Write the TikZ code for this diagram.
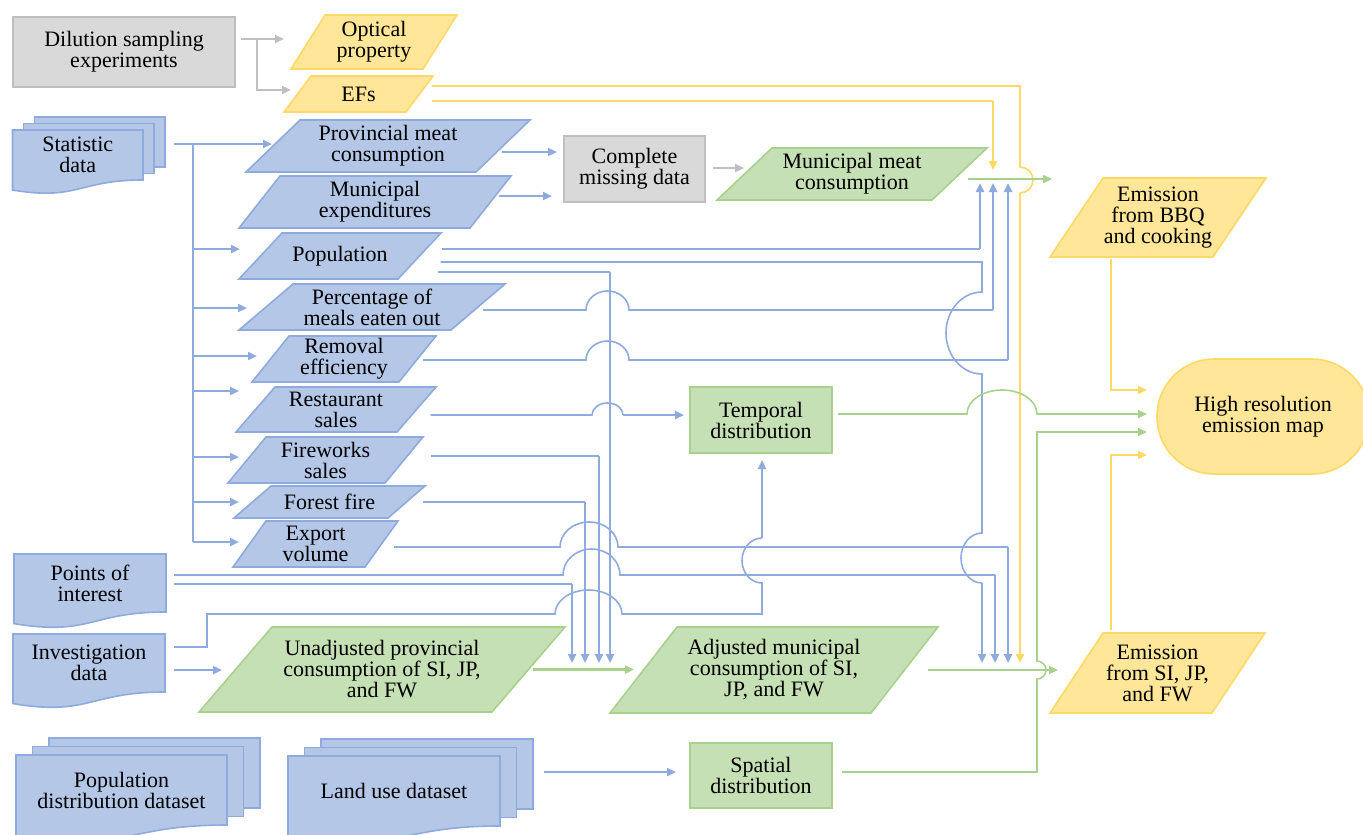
\documentclass[tikz,border=0pt]{standalone}
\usepackage{fontspec}
\setmainfont{Liberation Serif}
\newfontfamily\tnr{Liberation Serif}
\usetikzlibrary{arrows.meta,calc,backgrounds}
\definecolor{bfill}{HTML}{B4C7E7}\definecolor{bline}{HTML}{8FAADC}
\definecolor{gfill}{HTML}{C5E0B4}\definecolor{gline}{HTML}{A9D18E}
\definecolor{yfill}{HTML}{FFE699}\definecolor{yline}{HTML}{FFD966}
\definecolor{kfill}{HTML}{D9D9D9}\definecolor{kline}{HTML}{BFBFBF}
\newcommand\pgm[7]{\node[txt,minimum width=#4pt,minimum height=#5pt] (#2) at (#3) {#7};
  \begin{scope}[on background layer]
  \draw[#1] ([xshift=-#6pt]#2.south west)--([xshift=#6pt]#2.north west)--([xshift=#6pt]#2.north east)--([xshift=-#6pt]#2.south east)--cycle;
  \end{scope}}
\newcommand\docpath[2]{\draw[bsh] (#1.north west)--(#1.north east)--(#1.south east) .. controls (#1.south) and ([yshift=-0.42*#2pt]#1.south) .. ([yshift=-0.2*#2pt]#1.south west)--cycle;}
\newcommand\docu[5]{\node[txt,minimum width=#3pt,minimum height=#4pt] (#1) at (#2) {#5};
  \begin{scope}[on background layer]\docpath{#1}{#4}\end{scope}}
\newcommand\mdocu[7]{\node[txt,minimum width=#3pt,minimum height=#4pt] (#1) at (#2) {#7};
  \begin{scope}[on background layer]
  \foreach \k in {2,1}{\draw[bsh] ([shift={(\k*#5,-\k*#6)}]#1.north west) rectangle ([shift={(\k*#5,-\k*#6)}]#1.south east);}
  \docpath{#1}{#4}
  \end{scope}}
\begin{document}
\begin{tikzpicture}[x=1pt,y=-1pt,>={Triangle[length=9pt,width=8pt]},
  txt/.style={inner sep=0pt,outer sep=0pt,align=center,font=\tnr\fontsize{22}{21}\selectfont},
  bsh/.style={fill=bfill,draw=bline,line width=1.6pt},
  gsh/.style={fill=gfill,draw=gline,line width=1.6pt},
  ysh/.style={fill=yfill,draw=yline,line width=1.6pt},
  ksh/.style={fill=kfill,draw=kline,line width=1.6pt},
  box/.style={txt,minimum width=142pt,minimum height=66pt},
  bl/.style={draw=bline,line width=1.6pt},ba/.style={bl,line width=2.6pt,->},
  gl/.style={draw=gline,line width=1.6pt},ga/.style={gl,line width=2.6pt,->},
  yl/.style={draw=yline,line width=1.6pt},ya/.style={yl,line width=2.6pt,->},
  ka/.style={draw=kline,line width=2.6pt,->}]
\useasboundingbox (0,0) rectangle (1363,835);
\node[txt,ksh,minimum width=222.5pt,minimum height=70pt] (dil) at (124,52) {Dilution sampling\\experiments};
\pgm{ysh}{opt}{374,42}{132}{54}{17}{Optical\\property}
\pgm{ysh}{efs}{358.5,94}{122}{36}{13.5}{EFs}
\mdocu{stat}{77.75,155}{130.5}{50}{11}{6.5}{Statistic\\data}
\pgm{bsh}{prov}{388,146}{230}{52}{27}{Provincial meat\\consumption}
\pgm{bsh}{mexp}{375,202}{231}{52}{20.5}{Municipal\\expenditures}
\pgm{bsh}{pop}{340,256}{159}{46}{21.5}{Population}
\pgm{bsh}{pct}{372,307}{212}{46}{27}{Percentage of\\meals eaten out}
\pgm{bsh}{rem}{344,359}{147}{46}{18.5}{Removal\\efficiency}
\pgm{bsh}{rest}{336,409.5}{161}{45}{19.5}{Restaurant\\sales}
\pgm{bsh}{fw}{325.5,460}{157}{46}{19}{Fireworks\\sales}
\pgm{bsh}{ff}{329.5,502}{154}{32}{18.5}{Forest fire}
\pgm{bsh}{exp}{315.5,544}{132}{46}{16.5}{Export\\volume}
\docu{poi}{90,583}{152}{58}{Points of\\interest}
\docu{inv}{89,663}{152}{58}{Investigation\\data}
\mdocu{popd}{121.5,790}{211}{70}{16.5}{8.5}{Population\\distribution dataset}
\mdocu{land}{394,791}{212}{70}{16.5}{8.5}{Land use dataset}
\node[txt,ksh,minimum width=141pt,minimum height=66pt] (cmd) at (634.5,169) {Complete\\missing data};
\pgm{gsh}{mmc}{852,174}{215}{52}{27.5}{Municipal meat\\consumption}
\node[box,gsh] (tmp) at (761,420) {Temporal\\distribution};
\node[box,gsh,minimum height=65pt] (spd) at (761,775.5) {Spatial\\distribution};
\pgm{gsh}{unadj}{382,669.5}{293}{85}{36.5}{Unadjusted provincial\\consumption of SI, JP,\\and FW}
\pgm{gsh}{adj}{774,670}{261}{86}{33.5}{Adjusted municipal\\consumption of SI,\\JP, and FW}
\pgm{ysh}{bbq}{1158,217.5}{163}{79}{26.5}{Emission\\from BBQ\\and cooking}
\pgm{ysh}{siem}{1157.5,673}{162}{80}{26.5}{Emission\\from SI, JP,\\and FW}
\node[txt,ysh,rounded corners=57pt,minimum width=212pt,minimum height=115pt] (map) at (1263,416.5) {High resolution\\emission map};
\draw[ka] (dil.east) ++(6,-13) -- (284,39);
\draw[ka] (257,39) |- (291,90);
\draw[yl] (efs.east) ++(12,-8) -- (1020,86) -- (1020,167) arc[start angle=90,end angle=-90,radius=13pt];
\draw[ya] (1020,193) -- (1020,663);
\draw[yl] (efs.east) ++(12,7) -- (993,101);
\draw[ya] (993,101) -- (993,170);
\draw[ga] (mmc.east) ++(8,5) -- (1052,179);
\draw[ba] (stat.east) ++(31,-11) -- (272,144);
\draw[bl] (193,144) -- (193,542);
\foreach \y/\x in {249/240,308/247,356/257,391/239,457/239,502/239,542/239}
  \draw[ba] (193,\y) -- (\x,\y);
\draw[ba] (prov.east) ++(-1,6) -- (557,152);
\draw[ba] (mexp.east) ++(8,-6) -- (552,196);
\draw[ka] (cmd.east) ++(8,-1) -- (744,168);
\draw[bl] (pop.east) ++(22,-7) -- (980,249);
\draw[bl] (pop.east) ++(21,6) -- (982,262) -- (982,292) arc[start angle=90,end angle=270,x radius=36pt,y radius=41pt] -- (982,533) arc[start angle=90,end angle=270,x radius=21pt,y radius=25pt];
\draw[bl] (pop.east) ++(18,16) -- (610,272);
\draw[bl] (pct.east) ++(5,3) -- (586,310) arc[start angle=180,end angle=0,x radius=21.5pt,y radius=19pt] -- (993,310);
\draw[bl] (rem.east) ++(5.5,1) -- (586,360) arc[start angle=180,end angle=0,x radius=21.5pt,y radius=19pt] -- (1008,360);
\draw[bl] (rest.east) ++(14,5.5) -- (592,415) arc[start angle=180,end angle=0,x radius=15.5pt,y radius=12pt];
\draw[ba] (623,415) -- (684,415);
\draw[bl] (fw.east) ++(27,-4) -- (599,456);
\draw[bl] (ff.east) ++(16.5,0) -- (585,502);
\draw[bl] (exp.east) ++(12.5,3) -- (560,547) arc[start angle=180,end angle=0,x radius=29pt,y radius=25pt] -- (1008,547);
\draw[bl] (poi.east) ++(8,-8) -- (563,575) arc[start angle=180,end angle=0,x radius=28.5pt,y radius=26pt] -- (995,575);
\draw[bl] (poi.east) ++(8,1) -- (572,584);
\draw[bl] (inv.east) ++(9,-16) -- (207,647) -- (207,614) -- (555,614) arc[start angle=180,end angle=0,x radius=33.5pt,y radius=24pt] -- (762,614) -- (762,583) arc[start angle=270,end angle=90,x radius=20pt,y radius=22.5pt];
\draw[ba] (762,538) -- (762,460);
\foreach \x/\y in {980/249,993/310,1008/360}
  \draw[ba] (\x,\y) -- (\x,183);
\foreach \x/\y in {572/584,585/502,599/456,610/272,982/583,995/575,1008/547}
  \draw[ba] (\x,\y) -- (\x,663);
\draw[ba] (inv.east) ++(9,7) -- (222,670);
\draw[ba] (land.east) ++(44,-19) -- (676,772);
\draw[ga] (unadj.east) ++(4.5,0) -- (634,669.5);
\draw[ga] (adj.east) ++(23,0) -- (1058,670);
\draw[gl,->] (tmp.east) ++(6,-6) -- (967,414) arc[start angle=180,end angle=0,x radius=35pt,y radius=24pt] -- (1147,414);
\draw[gl,->] (spd.east) ++(10,-3.5) -- (1037,772) -- (1037,679) arc[start angle=-90,end angle=90,radius=9pt] -- (1037,432) -- (1147,432);
\draw[yl,->] (bbq.south) ++(-47,2) -- (1111,390) -- (1147,390);
\draw[yl,->] (siem.north) ++(-46.5,-3) -- (1111,455) -- (1147,455);
\end{tikzpicture}
\end{document}
